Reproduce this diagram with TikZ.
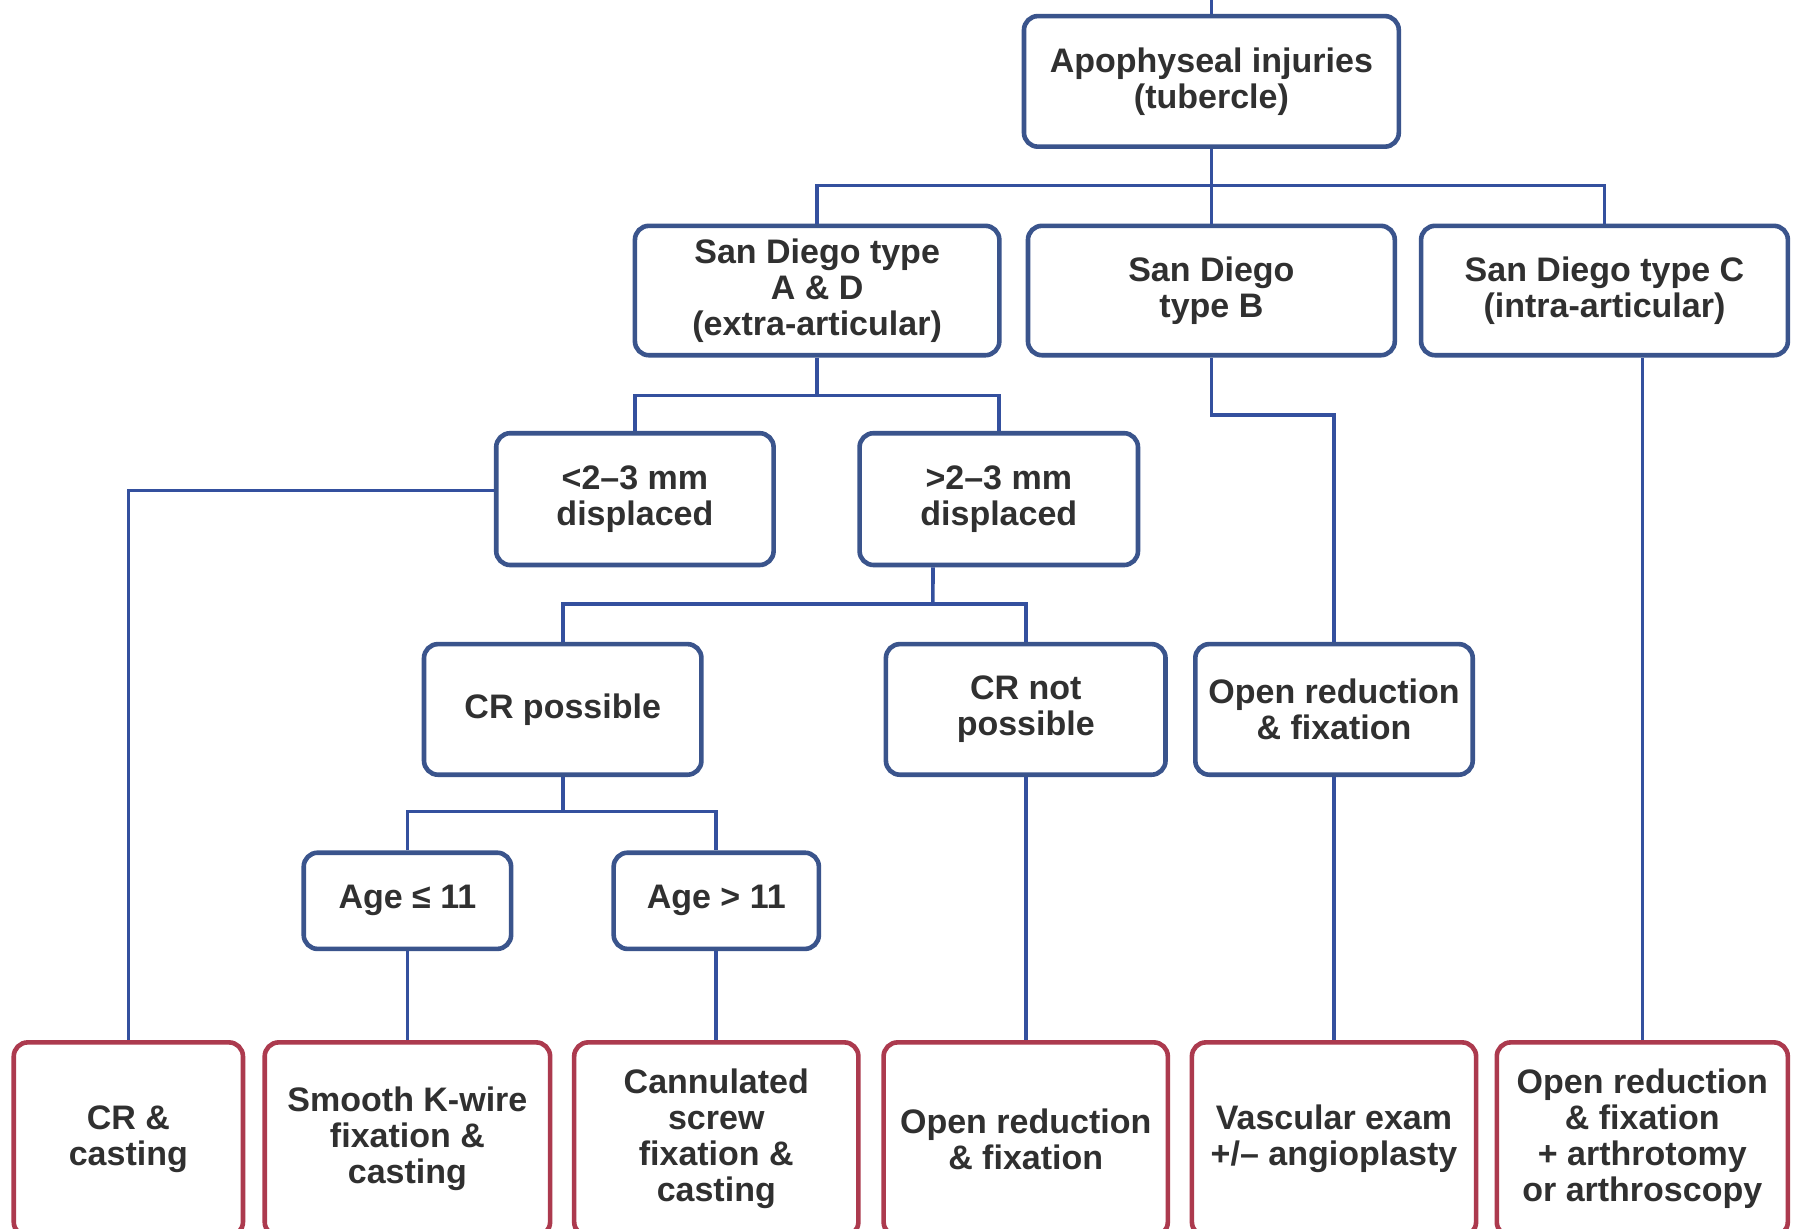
\documentclass[tikz,border=0pt]{standalone}
\usepackage{fontspec}
\setmainfont{Liberation Sans}
\definecolor{boxblue}{RGB}{58,84,140}
\definecolor{linkblue}{RGB}{52,80,158}
\definecolor{boxred}{RGB}{172,58,78}
\definecolor{txt}{RGB}{48,48,48}
\tikzset{
  base/.style={rounded corners=7pt, line width=2.3pt, fill=white, align=center,
    font=\fontsize{17}{18}\selectfont\bfseries, text=txt, inner sep=2pt},
  bluebox/.style={base, draw=boxblue},
  redbox/.style={base, draw=boxred},
  link/.style={draw=linkblue, line width=1.8pt}
}
\begin{document}
\begin{tikzpicture}[x=0.573pt,y=-0.573pt]
\useasboundingbox (0,0) rectangle (1568,1072);
\fill[white] (0,0) rectangle (1568,1072);
% level 1
\node[bluebox, minimum width=187.4pt, minimum height=65.3pt] (top) at (1057,71) {Apophyseal injuries\\(tubercle)};
% level 2
\node[bluebox, minimum width=182.2pt, minimum height=64.7pt] (AD) at (713,253.5) {San Diego type\\A \& D\\(extra-articular)};
\node[bluebox, minimum width=183.4pt, minimum height=64.7pt] (B) at (1057,253.5) {San Diego\\type B};
\node[bluebox, minimum width=183.4pt, minimum height=64.7pt] (C) at (1400,253.5) {San Diego type C\\(intra-articular)};
% level 3
\node[bluebox, minimum width=138.7pt, minimum height=65.9pt] (lt) at (554,435.5) {<2–3 mm\\displaced};
\node[bluebox, minimum width=139.2pt, minimum height=65.9pt] (gt) at (871.5,435.5) {>2–3 mm\\displaced};
% level 4
\node[bluebox, minimum width=138.7pt, minimum height=65.3pt] (CRp) at (491,619) {CR possible};
\node[bluebox, minimum width=139.8pt, minimum height=65.3pt] (CRn) at (895,619) {CR not\\possible};
\node[bluebox, minimum width=138.7pt, minimum height=65.3pt] (ORB) at (1164,619) {Open reduction\\\& fixation};
% level 5
\node[bluebox, minimum width=103.7pt, minimum height=48.1pt] (age1) at (355.5,786) {Age ≤ 11};
\node[bluebox, minimum width=102.6pt, minimum height=48.1pt] (age2) at (625,786) {Age > 11};
% bottom
\node[redbox, minimum width=114.6pt, minimum height=96.8pt] (b1) at (112,994) {CR \&\\casting};
\node[redbox, minimum width=142.7pt, minimum height=96.8pt] (b2) at (355.5,994) {Smooth K-wire\\fixation \&\\casting};
\node[redbox, minimum width=142.1pt, minimum height=96.8pt] (b3) at (625,994) {Cannulated\\screw\\fixation \&\\casting};
\node[redbox, minimum width=142.1pt, minimum height=96.8pt] (b4) at (895,994) {Open reduction\\\& fixation};
\node[redbox, minimum width=142.1pt, minimum height=96.8pt] (b5) at (1164,994) {Vascular exam\\+/– angioplasty};
\node[redbox, minimum width=145.5pt, minimum height=96.8pt] (b6) at (1433,994) {Open reduction\\\& fixation\\+ arthrotomy\\or arthroscopy};
% junction coordinates
\coordinate (tstub) at (1057,0);
\coordinate (j1) at (1057,162);
\coordinate (j2) at (713,345);
\coordinate (j3) at (814,527);
\coordinate (j4) at (1164,362);
\coordinate (j5) at (491,708);
% connectors
\begin{scope}[on background layer/.style={}]
\draw[link] (top.north) -- (tstub);
\draw[link] (top.south) -- (B.north);
\draw[link] (AD.north) |- (j1) -| (C.north);
\draw[link] (AD.south) -- (j2);
\draw[link] (lt.north) |- (j2) -| (gt.north);
\draw[link] ([yshift=4.3pt]lt.west) -| (b1.north);
\draw[link] ([xshift=-32.9pt]gt.south) -- (j3);
\draw[link] (CRp.north) |- (j3) -| (CRn.north);
\draw[link] (B.south) |- (j4) -- (ORB.north);
\draw[link] (C.south -| b6.north) -- (b6.north);
\draw[link] (CRp.south) -- (j5);
\draw[link] (age1.north) |- (j5) -| (age2.north);
\draw[link] (age1.south) -- (b2.north);
\draw[link] (age2.south) -- (b3.north);
\draw[link] (CRn.south) -- (b4.north);
\draw[link] (ORB.south) -- (b5.north);
\end{scope}
\end{tikzpicture}
\end{document}
